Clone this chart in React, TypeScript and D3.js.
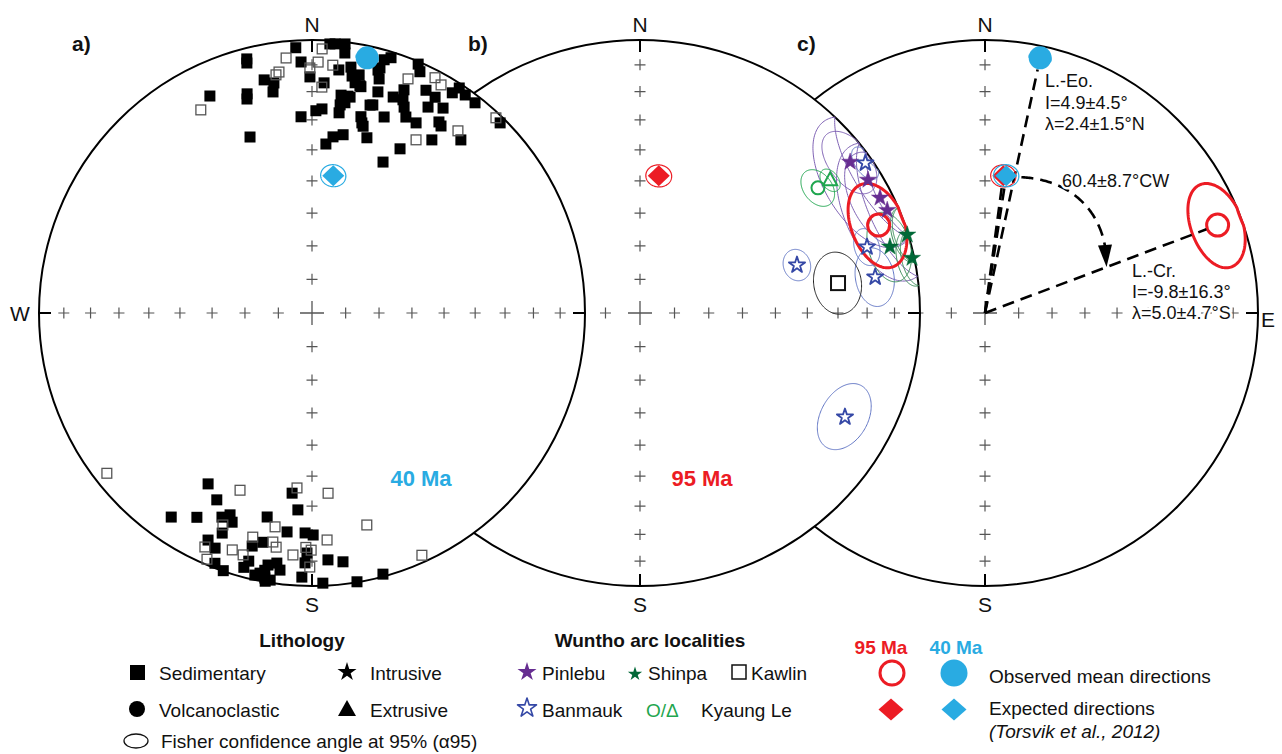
import React from "react";
import * as d3 from "d3";

type DI = [number, number]; // declination, inclination
type Site = [number, number, number]; // dec, inc, a95

// ---- Panel a: 40 Ma sample directions (filled = lower hemisphere, open = upper)
const sedNorthDown: DI[] = [
  [356.5, 3.0], [3.8, 1.4], [4.9, 1.2], [7.0, 0.8], [7.2, 4.5], [345.6, 4.4], [345.4, 6.0], [357.5, 8.8],
  [17.2, 2.4], [15.9, 4.0], [6.3, 11.4], [9.0, 9.7], [15.2, 8.6], [16.0, 11.8], [348.4, 13.9], [350.6, 15.7],
  [350.0, 18.9], [359.5, 14.6], [3.0, 16.7], [11.2, 12.1], [10.6, 15.3], [12.2, 16.3], [23.1, 1.0], [24.1, 3.6],
  [334.8, 13.2], [343.5, 17.4], [343.1, 19.2], [16.6, 16.6], [22.4, 12.6], [27.1, 9.2], [29.7, 9.9], [32.5, 4.9],
  [33.2, 1.7], [35.1, 2.7], [37.8, 2.9], [7.6, 20.6], [10.0, 20.8], [8.9, 23.1], [7.7, 26.9], [1.1, 26.8],
  [2.8, 26.1], [356.8, 28.8], [16.3, 21.7], [20.6, 16.6], [23.1, 16.2], [24.1, 18.5], [29.4, 14.5], [32.6, 11.9],
  [14.0, 26.8], [15.3, 29.8], [20.2, 24.5], [25.6, 21.5], [28.7, 21.7], [33.6, 17.1], [34.6, 17.9], [44.7, 2.3],
  [340.6, 32.2], [4.7, 37.9], [6.8, 35.3], [9.9, 34.1], [17.4, 33.2], [28.2, 32.3], [34.7, 23.9], [40.7, 17.5],
  [25.2, 38.8], [9.6, 13.0], [11.9, 16.0], [15.5, 7.6], [9.4, 20.6], [7.7, 24.1], [15.6, 22.0], [14.7, 28.8],
];
const sedNorthUp: DI[] = [
  [354.2, -6.8], [2.2, -3.6], [1.4, -8.9], [4.8, -9.8], [351.4, -12.8], [352.2, -11.9], [331.3, -16.3],
  [2.5, -18.3], [22.3, -8.1], [27.6, -3.1], [29.5, -4.5], [43.3, -2.0], [31.0, -26.9], [38.7, -15.6], [359.5, -11.2],
];
const sedSouthDown: DI[] = [
  [211.3, 27.6], [207.0, 24.2], [214.6, 10.1], [209.4, 15.2], [203.8, 19.4], [202.1, 21.3], [200.9, 19.1],
  [202.2, 14.0], [192.4, 24.5], [204.6, 9.4], [202.4, 7.6], [194.4, 12.9], [192.1, 15.2], [201.2, 1.9],
  [199.0, 0.2], [194.3, 6.9], [195.0, 4.0], [192.3, 2.0], [190.4, 4.7], [190.1, 1.6], [184.1, 28.5],
  [186.5, 20.4], [181.8, 20.5], [179.7, 19.8], [181.2, 13.1], [176.3, 10.3], [191.3, 3.2], [189.9, 7.0],
  [188.0, 8.3], [188.9, 1.1], [187.1, 5.7], [181.6, 9.3], [182.2, 3.6], [177.7, 1.1], [186.3, 34.0],
  [172.9, 9.0], [170.5, 0.2], [164.8, 1.0], [189.9, 0.3],
];
const sedSouthUp: DI[] = [
  [232.0, -5.2], [202.1, -30.6], [202.8, -16.9], [204.6, -6.4], [198.6, -9.3], [194.8, -16.2], [203.1, -2.2],
  [195.9, -8.7], [189.8, -21.6], [176.2, -17.8], [189.7, -16.0], [188.7, -14.3], [184.5, -12.1], [181.5, -15.2],
  [180.2, -14.2], [180.5, -7.7], [184.9, -35.9], [174.9, -34.1], [165.5, -20.9], [155.6, -2.9],
];

// ---- Mean / expected directions
const obs40: Site = [12.2, 4.9, 2.5];
const exp40: Site = [8.8, 47.8, 3.5];
const obs95: Site = [69.3, -9.8, 10];
const exp95: Site = [7.6, 48.0, 3.5];

// ---- Panel b: Wuntho arc site means (dec, inc, a95)
const pinlebu: Site[] = [[53.6, 7.5, 8], [59.1, 5.7, 16], [63.8, 5.0, 11], [66.9, 4.5, 16]];
const banmauk: Site[] = [[55.7, 2.9, 4], [73.4, 16.5, 4.5], [81.1, 16.1, 7], [72.6, 40.9, 4.3], [117.5, 18.6, 8.5]];
const shinpa: Site[] = [[73.3, 0.4, 6], [74.8, 8.3, 8], [78.3, 0.9, 6]];
const kyaungCircle: Site[] = [[54.2, 22.7, 5]];
const kyaungTriangle: Site[] = [[54.4, 17.6, 3]];
const kawlin: Site[] = [[81.2, 29.2, 8]];

const tickIncs = [10, 20, 30, 40, 50, 60, 70, 80];
const axisDecs = [0, 90, 180, 270];

const eoLabel = ["L.-Eo.", "I=4.9±4.5°", "λ=2.4±1.5°N"];
const crLabel = ["L.-Cr.", "I=-9.8±16.3°", "λ=5.0±4.7°S"];
const rotationLabel = "60.4±8.7°CW";

// ---- colours
const BLUE = "#29abe2";
const RED = "#ec1c24";
const PURPLE = "#662d91";
const PURPLE_L = "#8063b5";
const DKGREEN = "#006837";
const GREEN = "#1fa64f";
const BANBLUE = "#3548a6";
const BANBLUE_L = "#6478c6";
const GREY = "#555";

const rad = Math.PI / 180;
const FONT = "'Liberation Sans', Arial, Helvetica, sans-serif";

type Net = {
  cx: number; cy: number; rx: number; ry: number;
  p: (dec: number, inc: number) => [number, number];
};

function makeNet(cx: number, cy: number, rx: number, ry: number): Net {
  const rs = d3.scaleSqrt().domain([0, 1]).range([0, 1]); // equal-area radius
  const sx = d3.scaleLinear().domain([-1, 1]).range([cx - rx, cx + rx]);
  const sy = d3.scaleLinear().domain([-1, 1]).range([cy + ry, cy - ry]);
  const p = (dec: number, inc: number): [number, number] => {
    const r = rs(1 - Math.sin(Math.abs(inc) * rad));
    return [sx(r * Math.sin(dec * rad)), sy(r * Math.cos(dec * rad))];
  };
  return { cx, cy, rx, ry, p };
}

function coneDirs(s: Site, n = 160): DI[] {
  const [dec, inc, a95] = s;
  const D = dec * rad, I = inc * rad, a = a95 * rad;
  const m = [Math.cos(I) * Math.cos(D), Math.cos(I) * Math.sin(D), Math.sin(I)];
  const u = [-Math.sin(I) * Math.cos(D), -Math.sin(I) * Math.sin(D), Math.cos(I)];
  const v = [-Math.sin(D), Math.cos(D), 0];
  return d3.range(n).map((k) => {
    const t = (2 * Math.PI * k) / n;
    const c = Math.cos(a), sn = Math.sin(a);
    const x = c * m[0] + sn * (Math.cos(t) * u[0] + Math.sin(t) * v[0]);
    const y = c * m[1] + sn * (Math.cos(t) * u[1] + Math.sin(t) * v[1]);
    const z = c * m[2] + sn * (Math.cos(t) * u[2] + Math.sin(t) * v[2]);
    return [Math.atan2(y, x) / rad, Math.asin(Math.max(-1, Math.min(1, z))) / rad] as DI;
  });
}

function conePath(net: Net, s: Site): string {
  const pts = coneDirs(s).map(([d, i]) => net.p(d, i));
  return d3.line().curve(d3.curveLinearClosed)(pts) || "";
}

const starPath = (outer: number) => d3.symbol(d3.symbolStar, (outer * outer) / 0.8908130915292852)() || "";
const diamondPts = (x: number, y: number, w: number, h: number) =>
  `${x},${y - h} ${x + w},${y} ${x},${y + h} ${x - w},${y}`;

function Frame({ net, id }: { net: Net; id: string }) {
  const { cx, cy, rx, ry } = net;
  const els: React.ReactNode[] = [];
  tickIncs.forEach((inc) =>
    axisDecs.forEach((dec) => {
      const [x, y] = net.p(dec, inc);
      els.push(
        <path key={`t${id}${inc}-${dec}`} d={`M${x - 5.5},${y}H${x + 5.5}M${x},${y - 5.5}V${y + 5.5}`} stroke={GREY} strokeWidth={1.2} />
      );
    })
  );
  els.push(<path key={`c${id}`} d={`M${cx - 12},${cy}H${cx + 12}M${cx},${cy - 12}V${cy + 12}`} stroke={GREY} strokeWidth={1.3} />);
  axisDecs.forEach((dec) => {
    const [x1, y1] = net.p(dec, 0);
    const ux = Math.sin(dec * rad), uy = -Math.cos(dec * rad);
    els.push(<line key={`e${id}${dec}`} x1={x1} y1={y1} x2={x1 - ux * 12} y2={y1 - uy * 12} stroke="#000" strokeWidth={2} />);
  });
  return (
    <g>
      <ellipse cx={cx} cy={cy} rx={rx} ry={ry} fill="#fff" stroke="#000" strokeWidth={2} />
      {els}
    </g>
  );
}

function Squares({ net, data, filled }: { net: Net; data: DI[]; filled: boolean }) {
  const s = 11;
  return (
    <g>
      {data.map((d, i) => {
        const [x, y] = net.p(d[0], d[1]);
        return filled ? (
          <rect key={i} x={x - s / 2} y={y - s / 2} width={s} height={s} fill="#000" />
        ) : (
          <rect key={i} x={x - s / 2 + 0.6} y={y - s / 2 + 0.6} width={s - 1.2} height={s - 1.2} fill="none" stroke="#555" strokeWidth={1.3} />
        );
      })}
    </g>
  );
}

function Diamond({ net, s, color }: { net: Net; s: Site; color: string }) {
  const [x, y] = net.p(s[0], s[1]);
  return (
    <g>
      <path d={conePath(net, s)} fill="none" stroke={color} strokeWidth={1.2} />
      <polygon points={diamondPts(x, y, 11, 10.5)} fill={color} />
    </g>
  );
}

function ObsBlue({ net }: { net: Net }) {
  const [x, y] = net.p(obs40[0], obs40[1]);
  return (
    <g>
      <circle cx={x} cy={y} r={11.5} fill={BLUE} />
      <path d={conePath(net, obs40)} fill="none" stroke={BLUE} strokeWidth={1} />
    </g>
  );
}

function ObsRed({ net }: { net: Net }) {
  const [x, y] = net.p(obs95[0], obs95[1]);
  return (
    <g>
      <path d={conePath(net, obs95)} fill="none" stroke={RED} strokeWidth={3} />
      <circle cx={x} cy={y} r={11} fill="none" stroke={RED} strokeWidth={3} />
    </g>
  );
}

function dashedTo(net: Net, s: Site, back: number, key: string) {
  const [x, y] = net.p(s[0], s[1]);
  const dx = x - net.cx, dy = y - net.cy;
  const L = Math.hypot(dx, dy);
  const k = (L - back) / L;
  return (
    <line key={key} x1={net.cx} y1={net.cy} x2={net.cx + dx * k} y2={net.cy + dy * k} stroke="#000" strokeWidth={2.6} strokeDasharray="12 7" />
  );
}

export default function App() {
  const A = makeNet(312, 313, 273, 273);
  const B = makeNet(640, 313, 280, 273);
  const C = makeNet(985, 313, 273, 273);

  // rotation arrow in panel c (from expected to observed declination)
  const lerp = (a: number, b: number, t: number) => a + (b - a) * t;
  const arcT = d3.range(0, 1.0001, 0.01);
  const arcPts: [number, number][] = arcT.map((t) => {
    const ang = lerp(15, obs95[0], t) * rad;
    const r = (lerp(0.515, 0.476, t) + 0.045 * Math.sin(Math.PI * t)) * C.rx;
    return [C.cx + r * Math.sin(ang), C.cy - r * Math.cos(ang)];
  });
  const tip = arcPts[arcPts.length - 1];
  const dashPts = arcPts.filter((p) => Math.hypot(p[0] - tip[0], p[1] - tip[1]) > 20);
  const base = dashPts[dashPts.length - 1];
  const dirx = tip[0] - base[0], diry = tip[1] - base[1];
  const dl = Math.hypot(dirx, diry);
  const nx = -diry / dl, ny = dirx / dl;
  const bx = tip[0] - (dirx / dl) * 22, by = tip[1] - (diry / dl) * 22;
  const arrowHead = `${tip[0]},${tip[1]} ${bx + nx * 7},${by + ny * 7} ${bx - nx * 7},${by - ny * 7}`;

  const siteStar = (net: Net, s: Site, key: string, fill: string, stroke: string, outer: number, sw: number) => {
    const [x, y] = net.p(s[0], s[1]);
    return <path key={key} d={starPath(outer)} transform={`translate(${x},${y})`} fill={fill} stroke={stroke} strokeWidth={sw} strokeLinejoin="round" />;
  };

  const halo = { stroke: "#fff", strokeWidth: 5, paintOrder: "stroke" as const, strokeLinejoin: "round" as const };

  return (
    <svg width={1282} height={754} style={{ position: "absolute", left: 0, top: 0, background: "#fff" }} fontFamily={FONT}>
      <rect width={1282} height={754} fill="#fff" />

      {/* ---------- Panel c ---------- */}
      <Frame net={C} id="c" />
      <ObsRed net={C} />
      {dashedTo(C, obs40, 12, "d1")}
      {dashedTo(C, exp95, 6, "d2")}
      {dashedTo(C, exp40, 6, "d3")}
      {dashedTo(C, obs95, 12, "d4")}
      <path d={d3.line()(dashPts) || ""} fill="none" stroke="#000" strokeWidth={2.6} strokeDasharray="12 7" />
      <polygon points={arrowHead} fill="#000" />
      <Diamond net={C} s={exp95} color={RED} />
      <Diamond net={C} s={exp40} color={BLUE} />
      <ObsBlue net={C} />
      <g fontSize={18} fill="#111">
        {eoLabel.map((t, i) => (
          <text key={t} x={1045} y={87 + i * 21.5} {...halo}>{t}</text>
        ))}
        <text x={1062} y={187} {...halo}>{rotationLabel}</text>
        {crLabel.map((t, i) => (
          <text key={t} x={1132} y={277 + i * 21} {...halo}>{t}</text>
        ))}
      </g>

      {/* ---------- Panel b ---------- */}
      <Frame net={B} id="b" />
      <g fill="none">
        {pinlebu.map((s, i) => <path key={`pe${i}`} d={conePath(B, s)} stroke={PURPLE_L} strokeWidth={1} />)}
        {banmauk.map((s, i) => <path key={`be${i}`} d={conePath(B, s)} stroke={BANBLUE_L} strokeWidth={1} />)}
        {shinpa.map((s, i) => <path key={`se${i}`} d={conePath(B, s)} stroke="#3c8f5a" strokeWidth={1} />)}
        {kyaungCircle.map((s, i) => <path key={`kce${i}`} d={conePath(B, s)} stroke={GREEN} strokeWidth={1} />)}
        {kyaungTriangle.map((s, i) => <path key={`kte${i}`} d={conePath(B, s)} stroke={GREEN} strokeWidth={1} />)}
        {kawlin.map((s, i) => <path key={`kwe${i}`} d={conePath(B, s)} stroke="#222" strokeWidth={1} />)}
      </g>
      <ObsRed net={B} />
      {pinlebu.map((s, i) => siteStar(B, s, `ps${i}`, PURPLE, PURPLE, 9, 0.5))}
      {banmauk.map((s, i) => siteStar(B, s, `bs${i}`, "#fff", BANBLUE, 8.5, 1.8))}
      {shinpa.map((s, i) => siteStar(B, s, `ss${i}`, DKGREEN, DKGREEN, 9, 0.5))}
      {kyaungCircle.map((s, i) => {
        const [x, y] = B.p(s[0], s[1]);
        return <circle key={`kc${i}`} cx={x} cy={y} r={6.5} fill="none" stroke={GREEN} strokeWidth={2} />;
      })}
      {kyaungTriangle.map((s, i) => {
        const [x, y] = B.p(s[0], s[1]);
        return <polygon key={`kt${i}`} points={`${x},${y - 8} ${x + 7},${y + 5} ${x - 7},${y + 5}`} fill="none" stroke={GREEN} strokeWidth={2} />;
      })}
      {kawlin.map((s, i) => {
        const [x, y] = B.p(s[0], s[1]);
        return <rect key={`kw${i}`} x={x - 7} y={y - 7} width={14} height={14} fill="#fff" stroke="#111" strokeWidth={2} />;
      })}
      <Diamond net={B} s={exp95} color={RED} />
      <text x={702} y={486} fontSize={22} fontWeight="bold" fill={RED} textAnchor="middle">95 Ma</text>

      {/* ---------- Panel a ---------- */}
      <Frame net={A} id="a" />
      <Squares net={A} data={sedNorthDown} filled />
      <Squares net={A} data={sedSouthDown} filled />
      <Squares net={A} data={sedNorthUp} filled={false} />
      <Squares net={A} data={sedSouthUp} filled={false} />
      <ObsBlue net={A} />
      <Diamond net={A} s={exp40} color={BLUE} />
      <text x={421} y={486} fontSize={22} fontWeight="bold" fill={BLUE} textAnchor="middle">40 Ma</text>

      {/* ---------- direction & panel labels ---------- */}
      <g fontSize={21} fill="#111" textAnchor="middle">
        <text x={A.cx} y={32}>N</text>
        <text x={B.cx} y={32}>N</text>
        <text x={C.cx} y={32}>N</text>
        <text x={A.cx} y={612}>S</text>
        <text x={B.cx} y={612}>S</text>
        <text x={C.cx} y={612}>S</text>
        <text x={20} y={321}>W</text>
        <text x={1268} y={327}>E</text>
      </g>
      <g fontSize={21} fontWeight="bold" fill="#111">
        <text x={72} y={51}>a)</text>
        <text x={468} y={51}>b)</text>
        <text x={797} y={51}>c)</text>
      </g>

      {/* ---------- Legend ---------- */}
      <g fontSize={19} fill="#111">
        <text x={302} y={647} fontWeight="bold" textAnchor="middle">Lithology</text>
        <rect x={130} y={665} width={15} height={15} fill="#000" />
        <text x={159} y={680}>Sedimentary</text>
        <path d={starPath(10)} transform="translate(347,672)" fill="#000" />
        <text x={370} y={680}>Intrusive</text>
        <circle cx={137} cy={709} r={8} fill="#000" />
        <text x={159} y={717}>Volcanoclastic</text>
        <polygon points="347,700 356,716 338,716" fill="#000" />
        <text x={370} y={717}>Extrusive</text>
        <ellipse cx={136} cy={741} rx={12} ry={7} fill="none" stroke="#111" strokeWidth={1.3} />
        <text x={161} y={748}>Fisher confidence angle at 95% (α95)</text>

        <text x={650} y={647} fontWeight="bold" textAnchor="middle">Wuntho arc localities</text>
        <path d={starPath(10)} transform="translate(527,672)" fill={PURPLE} />
        <text x={542} y={680}>Pinlebu</text>
        <path d={starPath(7.5)} transform="translate(635,674)" fill={DKGREEN} />
        <text x={648} y={680}>Shinpa</text>
        <rect x={732} y={665} width={14} height={14} fill="none" stroke="#111" strokeWidth={1.5} />
        <text x={751} y={680}>Kawlin</text>
        <path d={starPath(10)} transform="translate(527,708)" fill="#fff" stroke={BANBLUE} strokeWidth={1.6} strokeLinejoin="round" />
        <text x={542} y={717}>Banmauk</text>
        <text x={646} y={717} fill={GREEN}>O/Δ</text>
        <text x={701} y={717}>Kyaung Le</text>

        <text x={881} y={654} fontWeight="bold" fill={RED} textAnchor="middle">95 Ma</text>
        <text x={956} y={654} fontWeight="bold" fill={BLUE} textAnchor="middle">40 Ma</text>
        <circle cx={892} cy={673} r={12} fill="none" stroke={RED} strokeWidth={3} />
        <circle cx={954} cy={673} r={13.5} fill={BLUE} />
        <polygon points={diamondPts(891, 709.5, 12.5, 11)} fill={RED} />
        <polygon points={diamondPts(954, 709.5, 12.5, 11)} fill={BLUE} />
        <text x={989} y={683}>Observed mean directions</text>
        <text x={989} y={715}>Expected directions</text>
        <text x={989} y={738} fontStyle="italic">(Torsvik et al., 2012)</text>
      </g>
    </svg>
  );
}
